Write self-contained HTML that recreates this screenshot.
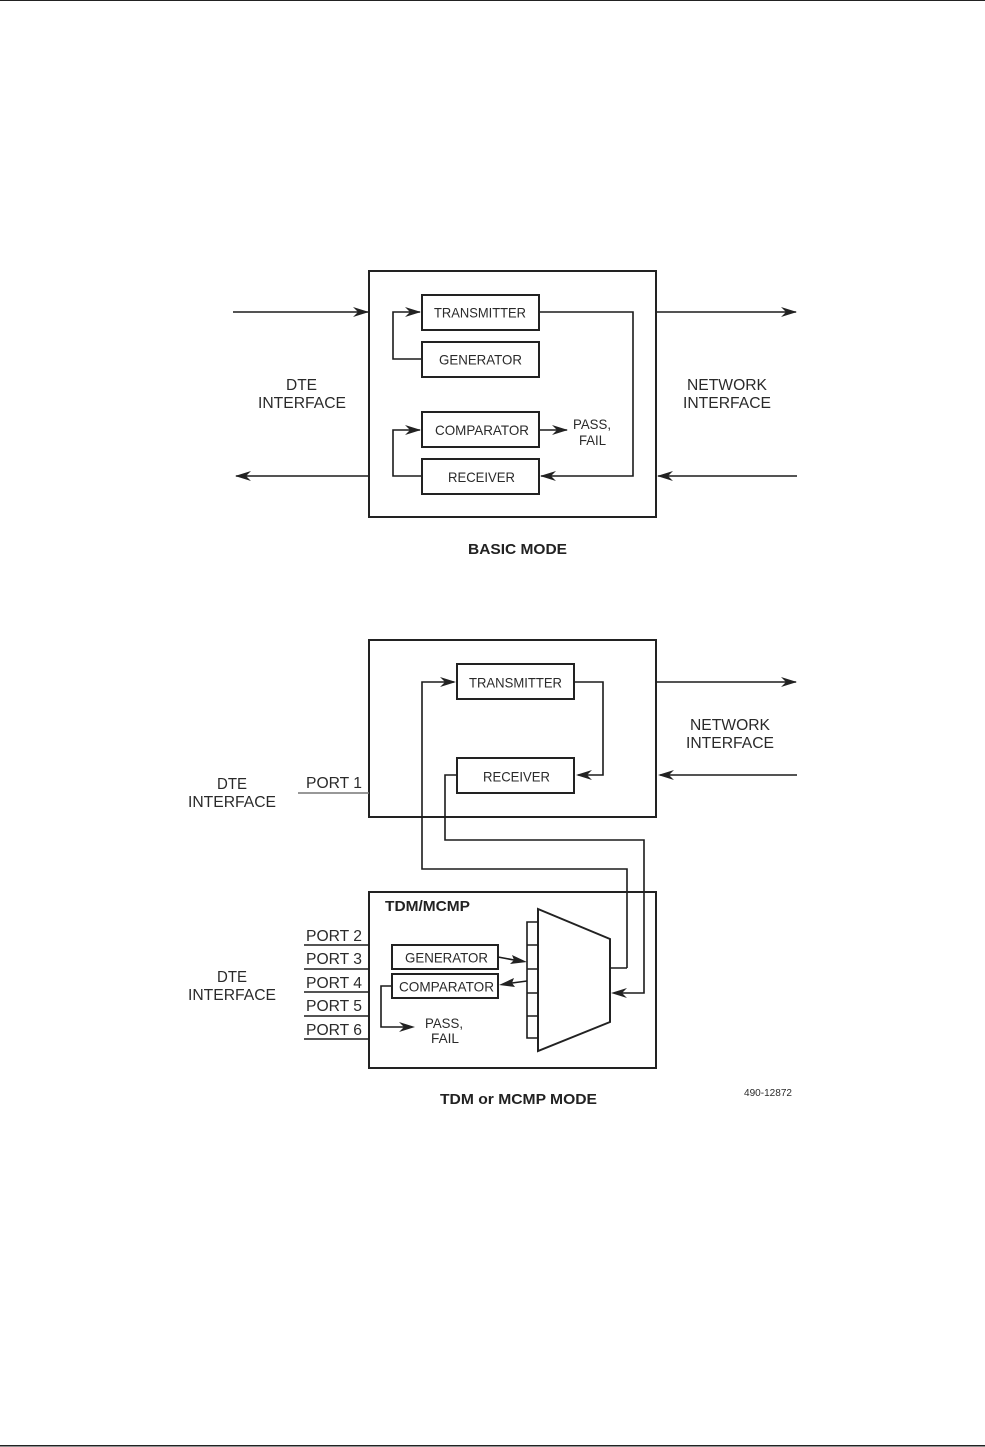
<!DOCTYPE html>
<html>
<head>
<meta charset="utf-8">
<style>
html,body{margin:0;padding:0;background:#fff;width:985px;height:1447px;overflow:hidden}
svg{display:block}
text{font-family:"Liberation Sans",sans-serif;fill:#2a2a2a}
.s{font-size:14px}
.m{font-size:15.5px}
.b{font-size:15px;font-weight:bold;fill:#222}
.box{fill:none;stroke:#222;stroke-width:2}
.big{fill:none;stroke:#222;stroke-width:2}
.l{fill:none;stroke:#1c1c1c;stroke-width:1.6}
.h{fill:#222;stroke:none}
</style>
</head>
<body>
<svg width="985" height="1447" viewBox="0 0 985 1447" xmlns="http://www.w3.org/2000/svg">
<defs>
<path id="ah" d="M0 0 L-16 -5 L-11 0 L-16 5 Z"/>
</defs>
<rect x="0" y="0" width="985" height="1" fill="#222"/>
<rect x="0" y="1445" width="985" height="1.5" fill="#222"/>

<!-- BASIC MODE -->
<rect class="big" x="369" y="271" width="287" height="246"/>
<rect class="box" x="422" y="295" width="117" height="35"/>
<rect class="box" x="422" y="342" width="117" height="35"/>
<rect class="box" x="422" y="412" width="117" height="35"/>
<rect class="box" x="422" y="459" width="117" height="35"/>
<path class="l" d="M233 312H368"/>
<use href="#ah" class="h" transform="translate(369,312)"/>
<path class="l" d="M657 312H796"/>
<use href="#ah" class="h" transform="translate(797,312)"/>
<path class="l" d="M368 476H236"/>
<use href="#ah" class="h" transform="translate(235,476) scale(-1,1)"/>
<path class="l" d="M797 476H658"/>
<use href="#ah" class="h" transform="translate(657,476) scale(-1,1)"/>
<path class="l" d="M421 359H393V312H420"/>
<use href="#ah" class="h" transform="translate(421,312)"/>
<path class="l" d="M421 476H393V430H420"/>
<use href="#ah" class="h" transform="translate(421,430)"/>
<path class="l" d="M540 312H633V476H541"/>
<use href="#ah" class="h" transform="translate(540,476) scale(-1,1)"/>
<path class="l" d="M540 430H567"/>
<use href="#ah" class="h" transform="translate(568,430)"/>

<text class="s" x="434" y="317.5" textLength="92" lengthAdjust="spacingAndGlyphs">TRANSMITTER</text>
<text class="s" x="439" y="364.5" textLength="83" lengthAdjust="spacingAndGlyphs">GENERATOR</text>
<text class="s" x="435" y="435" textLength="94" lengthAdjust="spacingAndGlyphs">COMPARATOR</text>
<text class="s" x="448" y="482" textLength="67" lengthAdjust="spacingAndGlyphs">RECEIVER</text>
<text class="s" x="573" y="429" textLength="38" lengthAdjust="spacingAndGlyphs">PASS,</text>
<text class="s" x="579" y="445" textLength="27" lengthAdjust="spacingAndGlyphs">FAIL</text>
<text class="m" x="286" y="390" textLength="31" lengthAdjust="spacingAndGlyphs">DTE</text>
<text class="m" x="258" y="408" textLength="88" lengthAdjust="spacingAndGlyphs">INTERFACE</text>
<text class="m" x="687" y="390" textLength="80" lengthAdjust="spacingAndGlyphs">NETWORK</text>
<text class="m" x="683" y="408" textLength="88" lengthAdjust="spacingAndGlyphs">INTERFACE</text>
<text class="b" x="468" y="554" textLength="99" lengthAdjust="spacingAndGlyphs">BASIC MODE</text>

<!-- TDM upper -->
<rect class="big" x="369" y="640" width="287" height="177"/>
<rect class="box" x="457" y="664" width="117" height="35"/>
<rect class="box" x="457" y="758" width="117" height="35"/>
<path class="l" d="M656 682H796"/>
<use href="#ah" class="h" transform="translate(797,682)"/>
<path class="l" d="M797 775H660"/>
<use href="#ah" class="h" transform="translate(658,775) scale(-1,1)"/>
<path class="l" d="M574 682H603V775H578"/>
<use href="#ah" class="h" transform="translate(576,775) scale(-1,1)"/>
<path class="l" d="M627 968V869H422V682H454"/>
<use href="#ah" class="h" transform="translate(456,682)"/>
<path class="l" d="M457 775H445V840H644V993H614"/>
<use href="#ah" class="h" transform="translate(611,993) scale(-1,1)"/>
<path d="M298 793H369" fill="none" stroke="#777" stroke-width="1.4"/>

<text class="s" x="469" y="687.5" textLength="93" lengthAdjust="spacingAndGlyphs">TRANSMITTER</text>
<text class="s" x="483" y="781.5" textLength="67" lengthAdjust="spacingAndGlyphs">RECEIVER</text>
<text class="m" x="690" y="730" textLength="80" lengthAdjust="spacingAndGlyphs">NETWORK</text>
<text class="m" x="686" y="748" textLength="88" lengthAdjust="spacingAndGlyphs">INTERFACE</text>
<text class="m" x="217" y="789" textLength="30" lengthAdjust="spacingAndGlyphs">DTE</text>
<text class="m" x="188" y="807" textLength="88" lengthAdjust="spacingAndGlyphs">INTERFACE</text>
<text class="m" x="306" y="788" textLength="56" lengthAdjust="spacingAndGlyphs">PORT 1</text>

<!-- TDM lower -->
<rect class="big" x="369" y="892" width="287" height="176"/>
<text class="b" x="385" y="911" textLength="85" lengthAdjust="spacingAndGlyphs">TDM/MCMP</text>
<path d="M538 909L610 939V1022L538 1051Z" fill="#fff" stroke="#222" stroke-width="2"/>
<path class="l" d="M538 922H527V1038H538M527 945H538M527 969H538M527 993H538M527 1016H538"/>
<rect class="box" x="392" y="945" width="106" height="24"/>
<rect class="box" x="392" y="974" width="106" height="24"/>
<path class="l" d="M498 957L514 960"/>
<path class="h" d="M527 962L510 964L514 960L512 955Z"/>
<path class="l" d="M527 981L512 983"/>
<path class="h" d="M499 985L514 978L512 983L515 987Z"/>
<path class="l" d="M391 986H381V1027H412"/>
<use href="#ah" class="h" transform="translate(415,1027)"/>
<path class="l" d="M610 968H627"/>
<path class="l" d="M304 945H369M304 969H369M304 992H369M304 1016H369M304 1039H369"/>

<text class="s" x="405" y="962.5" textLength="83" lengthAdjust="spacingAndGlyphs">GENERATOR</text>
<text class="s" x="399" y="991.5" textLength="95" lengthAdjust="spacingAndGlyphs">COMPARATOR</text>
<text class="s" x="425" y="1028" textLength="38" lengthAdjust="spacingAndGlyphs">PASS,</text>
<text class="s" x="431" y="1043" textLength="28" lengthAdjust="spacingAndGlyphs">FAIL</text>
<text class="m" x="306" y="941" textLength="56" lengthAdjust="spacingAndGlyphs">PORT 2</text>
<text class="m" x="306" y="964" textLength="56" lengthAdjust="spacingAndGlyphs">PORT 3</text>
<text class="m" x="306" y="988" textLength="56" lengthAdjust="spacingAndGlyphs">PORT 4</text>
<text class="m" x="306" y="1011" textLength="56" lengthAdjust="spacingAndGlyphs">PORT 5</text>
<text class="m" x="306" y="1035" textLength="56" lengthAdjust="spacingAndGlyphs">PORT 6</text>
<text class="m" x="217" y="982" textLength="30" lengthAdjust="spacingAndGlyphs">DTE</text>
<text class="m" x="188" y="1000" textLength="88" lengthAdjust="spacingAndGlyphs">INTERFACE</text>
<text class="b" x="440" y="1104" textLength="157" lengthAdjust="spacingAndGlyphs">TDM or MCMP MODE</text>
<text x="744" y="1096" font-size="10.5" textLength="48" lengthAdjust="spacingAndGlyphs">490-12872</text>
</svg>
</body>
</html>
